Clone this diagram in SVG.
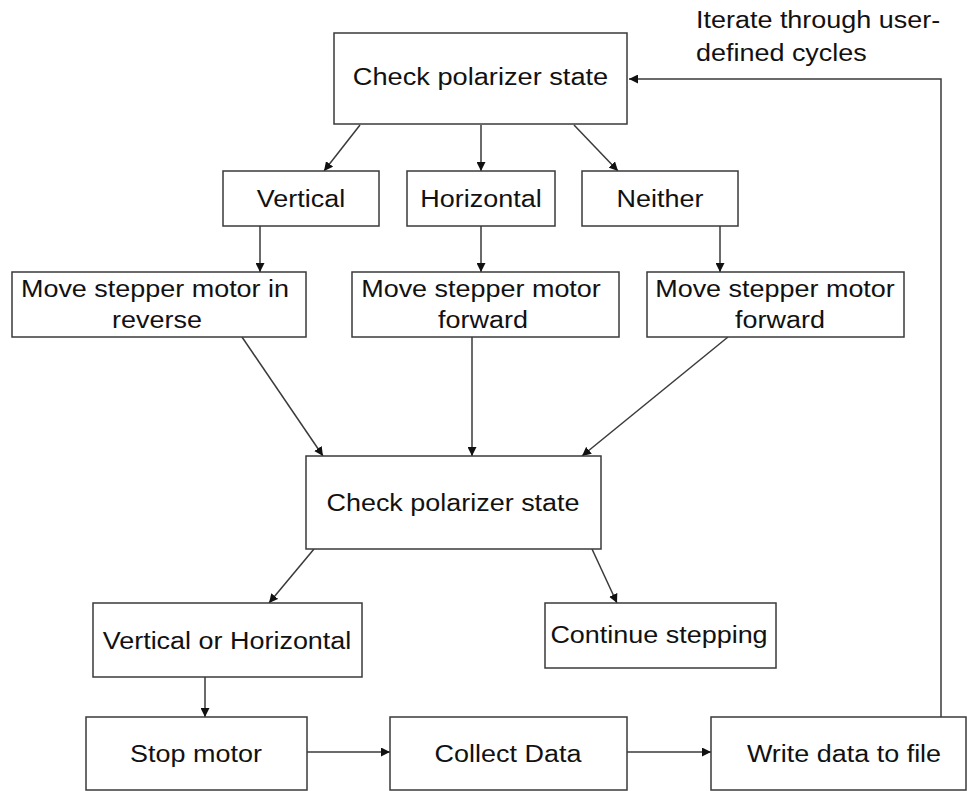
<svg xmlns="http://www.w3.org/2000/svg" width="971" height="791" viewBox="0 0 971 791">
<style>
.box{fill:#fff;stroke:#3a3a3a;stroke-width:1.5}
.t{font-family:"Liberation Sans",Arial,sans-serif;font-size:24.5px;fill:#111;text-anchor:middle}
.l{text-anchor:start}
.c{fill:none;stroke:#3a3a3a;stroke-width:1.5;marker-end:url(#ah)}
</style>
<defs>
<marker id="ah" viewBox="0 0 10 10" refX="10" refY="5" markerWidth="9" markerHeight="9" markerUnits="userSpaceOnUse" orient="auto">
<path d="M0,0 L10,5 L0,10 z" fill="#111"/>
</marker>
</defs>
<rect width="971" height="791" fill="#fff"/>
<g id="connectors">
<line class="c" x1="360" y1="125" x2="324" y2="171"/>
<line class="c" x1="481" y1="125" x2="481" y2="171"/>
<line class="c" x1="574" y1="125" x2="618" y2="171"/>
<line class="c" x1="260" y1="226" x2="260" y2="272"/>
<line class="c" x1="481" y1="226" x2="481" y2="272"/>
<line class="c" x1="720" y1="226" x2="720" y2="272"/>
<line class="c" x1="242" y1="337" x2="323" y2="456"/>
<line class="c" x1="472" y1="337" x2="472" y2="456"/>
<line class="c" x1="728" y1="337" x2="582" y2="456"/>
<line class="c" x1="314" y1="549" x2="269" y2="603"/>
<line class="c" x1="592" y1="549" x2="617" y2="603"/>
<line class="c" x1="205" y1="677" x2="205" y2="717"/>
<line class="c" x1="307" y1="752" x2="390" y2="752"/>
<line class="c" x1="627" y1="752" x2="711" y2="752"/>
<polyline class="c" points="941,717 941,79 629,79"/>
</g>
<g id="label-iterate">
<text class="t l" transform="translate(696,28) scale(1.1,1)">Iterate through user-</text>
<text class="t l" transform="translate(696,61) scale(1.1,1)">defined cycles</text>
</g>
<g id="check1">
<rect class="box" x="334" y="33" width="293" height="91"/>
<text class="t" transform="translate(480.5,85) scale(1.11,1)">Check polarizer state</text>
</g>
<g id="vertical">
<rect class="box" x="223" y="171" width="156" height="55"/>
<text class="t" transform="translate(301,207) scale(1.1,1)">Vertical</text>
</g>
<g id="horizontal">
<rect class="box" x="407" y="171" width="148" height="55"/>
<text class="t" transform="translate(481,207) scale(1.1,1)">Horizontal</text>
</g>
<g id="neither">
<rect class="box" x="582" y="171" width="156" height="55"/>
<text class="t" transform="translate(660,207) scale(1.1,1)">Neither</text>
</g>
<g id="reverse">
<rect class="box" x="12" y="272" width="294" height="65"/>
<text class="t" transform="translate(155,297) scale(1.1,1)">Move stepper motor in</text>
<text class="t" transform="translate(157,328) scale(1.1,1)">reverse</text>
</g>
<g id="forward1">
<rect class="box" x="352" y="272" width="267" height="65"/>
<text class="t" transform="translate(481,297) scale(1.1,1)">Move stepper motor</text>
<text class="t" transform="translate(483,328) scale(1.1,1)">forward</text>
</g>
<g id="forward2">
<rect class="box" x="647" y="272" width="257" height="65"/>
<text class="t" transform="translate(775,297) scale(1.1,1)">Move stepper motor</text>
<text class="t" transform="translate(780,328) scale(1.1,1)">forward</text>
</g>
<g id="check2">
<rect class="box" x="306" y="456" width="295" height="93"/>
<text class="t" transform="translate(453,511) scale(1.1,1)">Check polarizer state</text>
</g>
<g id="vorh">
<rect class="box" x="93" y="603" width="269" height="74"/>
<text class="t" transform="translate(227,649) scale(1.1,1)">Vertical or Horizontal</text>
</g>
<g id="continue">
<rect class="box" x="545" y="603" width="231" height="65"/>
<text class="t" transform="translate(659,643) scale(1.1,1)">Continue stepping</text>
</g>
<g id="stop">
<rect class="box" x="86" y="717" width="221" height="73"/>
<text class="t" transform="translate(196,762) scale(1.1,1)">Stop motor</text>
</g>
<g id="collect">
<rect class="box" x="390" y="717" width="237" height="73"/>
<text class="t" transform="translate(508,762) scale(1.1,1)">Collect Data</text>
</g>
<g id="write">
<rect class="box" x="711" y="717" width="255" height="73"/>
<text class="t" transform="translate(844,762) scale(1.1,1)">Write data to file</text>
</g>
</svg>
